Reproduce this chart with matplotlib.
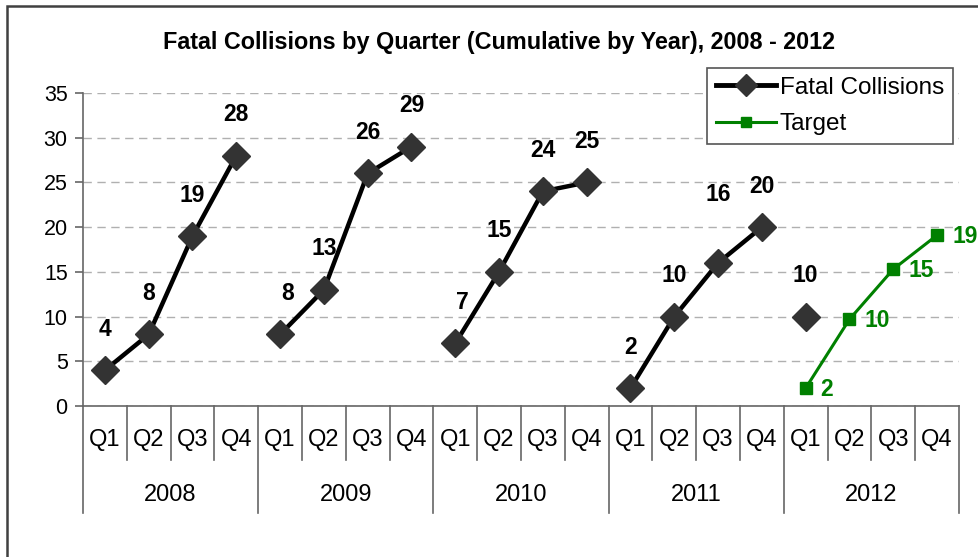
import numpy as np
import matplotlib
matplotlib.use("Agg")
import matplotlib.pyplot as plt
from matplotlib.patches import Rectangle
from matplotlib.lines import Line2D

plt.rcParams['font.family'] = ['Liberation Sans', 'DejaVu Sans']

# Data
years = ["2008", "2009", "2010", "2011", "2012"]
quarters = ["Q1", "Q2", "Q3", "Q4"]
fatal_2008 = [4, 8, 19, 28]
fatal_2009 = [8, 13, 26, 29]
fatal_2010 = [7, 15, 24, 25]
fatal_2011 = [2, 10, 16, 20]
fatal_2012 = [10, np.nan, np.nan, np.nan]
target_2012 = [2, 9.7, 15.3, 19.1]
target_labels = ["2", "10", "15", "19"]

fatal_by_year = [fatal_2008, fatal_2009, fatal_2010, fatal_2011, fatal_2012]

GREEN = "#008000"

fig = plt.figure(figsize=(9.79, 5.57), dpi=100)
ax = fig.add_axes([83 / 979, 1 - 406 / 557, 876 / 979, 313 / 557])

# outer chart border (cropped on right / bottom like the source)
fig.patches.append(Rectangle((7 / 979, -0.1), 1.2, 1 - 6 / 557 + 0.1,
                             transform=fig.transFigure, fill=False,
                             edgecolor="#404040", linewidth=1.8, clip_on=False))

# Fatal collisions, one segment per year
for yi, vals in enumerate(fatal_by_year):
    xs = np.arange(4) + yi * 4
    ax.plot(xs, vals, color="black", linewidth=3.2, marker="D",
            markersize=14, markerfacecolor="#333333",
            markeredgecolor="#333333", zorder=3)

# data labels above
lift = {(3, 2): 68}
shift = {(1, 0): 8, (2, 0): 7}
for yi, vals in enumerate(fatal_by_year):
    for qi, v in enumerate(vals):
        if np.isnan(v):
            continue
        dy = lift.get((yi, qi), 41)
        dx = shift.get((yi, qi), 0)
        ax.annotate(str(int(v)), (yi * 4 + qi, v), xytext=(dx, dy),
                    textcoords="offset pixels", ha="center", va="center",
                    fontsize=16.5, fontweight="bold", color="black",
                    annotation_clip=False)

# Target
tx = np.arange(4) + 16
ax.plot(tx, target_2012, color=GREEN, linewidth=2.2, marker="s",
        markersize=8, markerfacecolor=GREEN, markeredgecolor=GREEN, zorder=3)
for x, v, lab in zip(tx, target_2012, target_labels):
    ax.annotate(lab, (x, v), xytext=(15, -1), textcoords="offset pixels",
                ha="left", va="center", fontsize=16.5, fontweight="bold",
                color=GREEN, annotation_clip=False)

# axes styling
ax.set_xlim(-0.5, 19.5)
ax.set_ylim(0, 35)
ax.set_yticks(range(0, 36, 5))
ax.tick_params(axis="y", labelsize=15.5, length=6, width=1.2, color="#666666",
               pad=5)
ax.set_xticks([])
for s in ["top", "right"]:
    ax.spines[s].set_visible(False)
ax.spines["left"].set_color("#666666")
ax.spines["left"].set_linewidth(1.2)
ax.spines["bottom"].set_color("#666666")
ax.spines["bottom"].set_linewidth(1.2)
ax.yaxis.grid(True, linestyle=(0, (6, 4)), color="#b0b0b0", linewidth=1)
ax.set_axisbelow(True)

# multi-level category axis
trans = ax.get_xaxis_transform()
n = len(years) * len(quarters)
for i in range(n + 1):
    bottom = -107 / 313 if i % 4 == 0 else -54 / 313
    ax.plot([i - 0.5, i - 0.5], [0, bottom], transform=trans,
            color="#666666", linewidth=1.2, clip_on=False)
for i in range(n):
    ax.text(i, -34 / 313, quarters[i % 4], transform=trans, ha="center",
            va="center", fontsize=17)
for yi, yr in enumerate(years):
    ax.text(yi * 4 + 1.5, -89 / 313, yr, transform=trans, ha="center",
            va="center", fontsize=17)

# title
fig.text(499 / 979, 1 - 42 / 557,
         "Fatal Collisions by Quarter (Cumulative by Year), 2008 - 2012",
         ha="center", va="center", fontsize=16.8, fontweight="bold")

# legend
handles = [
    Line2D([], [], color="black", linewidth=3.5, marker="D", markersize=11,
           markerfacecolor="#333333", markeredgecolor="#333333"),
    Line2D([], [], color=GREEN, linewidth=2.2, marker="s", markersize=7,
           markerfacecolor=GREEN, markeredgecolor=GREEN),
]
leg = fig.legend(handles, ["Fatal Collisions", "Target"],
                 loc="upper left", bbox_to_anchor=(707 / 979, 1 - 68 / 557),
                 fontsize=17.5, frameon=True, fancybox=False, framealpha=1,
                 edgecolor="#555555", handlelength=2.5, handletextpad=0.15,
                 borderpad=0.35, borderaxespad=0, labelspacing=0.6)
leg.get_frame().set_linewidth(1.2)
leg._legend_box.sep = 0

fig.savefig("out.png", dpi=100)
